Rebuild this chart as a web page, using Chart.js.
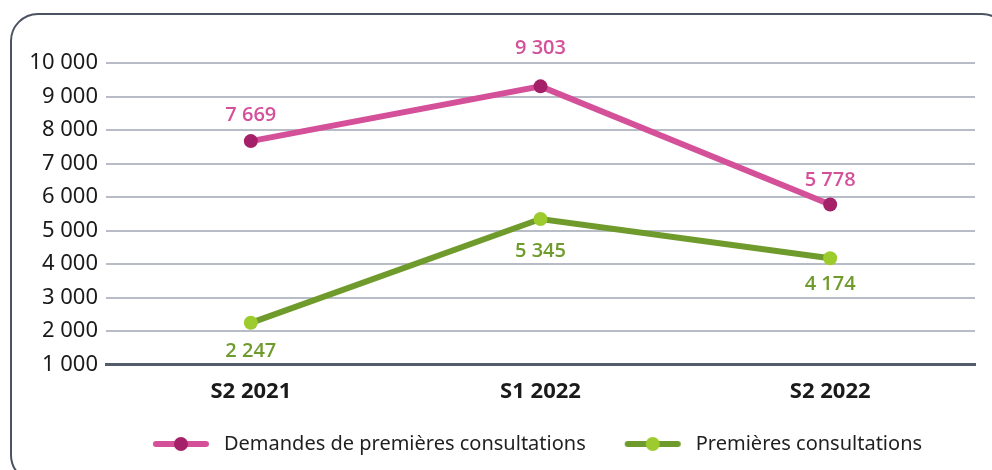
<!DOCTYPE html>
<html>
<head>
<meta charset="utf-8">
<script src="https://cdn.jsdelivr.net/npm/chart.js@4.4.1/dist/chart.umd.min.js"></script>
<style>
  html, body { margin: 0; padding: 0; background: #ffffff; overflow: hidden; }
  body { width: 992px; height: 470px; position: relative; }
  .card {
    position: absolute; left: 10px; top: 13px; width: 1000px; height: 470px;
    border: 2.5px solid #4b5262; border-radius: 28px; box-sizing: border-box;
  }
  #chart { position: absolute; left: 0; top: 0; }
</style>
</head>
<body>
<div class="card"></div>
<canvas id="chart" width="992" height="470"></canvas>
<script>
// ---------- DATA ----------

const periods = ["S2 2021", "S1 2022", "S2 2022"];
const demandes = [7669, 9303, 5778];
const consultations = [2247, 5345, 4174];
const seriesNames = ["Demandes de premières consultations", "Premières consultations"];

// ---------- STYLE ----------

const pink = "#d4519a";
const pinkDot = "#a4216a";
const green = "#6f9b2c";
const greenDot = "#9dcb2e";

function fmt(v) {
  return String(v).replace(/\B(?=(\d{3})+(?!\d))/g, " ");
}

// legend marker: a short thick line with a dot in the middle
// (left margin gives the gap between legend items)
function legendMarker(lineColor, dotColor) {
  const c = document.createElement("canvas");
  c.width = 85;
  c.height = 16;
  const g = c.getContext("2d");
  g.strokeStyle = lineColor;
  g.lineWidth = 6;
  g.lineCap = "round";
  g.beginPath();
  g.moveTo(27, 8);
  g.lineTo(77, 8);
  g.stroke();
  g.fillStyle = dotColor;
  g.beginPath();
  g.arc(52, 8, 7, 0, Math.PI * 2);
  g.fill();
  return c;
}

// value labels above / below each point
const valueLabels = {
  id: "valueLabels",
  afterDatasetsDraw(chart, args, opts) {
    const ctx = chart.ctx;
    ctx.save();
    ctx.font = "600 20px 'Open Sans', 'Noto Sans', sans-serif";
    ctx.textAlign = "center";
    ctx.textBaseline = "middle";
    chart.data.datasets.forEach((ds, di) => {
      const meta = chart.getDatasetMeta(di);
      ctx.fillStyle = opts.colors[di];
      meta.data.forEach((pt, i) => {
        ctx.fillText(fmt(ds.data[i]), pt.x, pt.y + opts.shift[di][i]);
      });
    });
    ctx.restore();
  }
};

new Chart(document.getElementById("chart"), {
  type: "line",
  data: {
    labels: periods,
    datasets: [
      {
        label: seriesNames[0],
        data: demandes,
        borderColor: pink,
        borderWidth: 6,
        pointRadius: 7,
        pointHoverRadius: 7,
        pointBackgroundColor: pinkDot,
        pointBorderWidth: 0,
        tension: 0
      },
      {
        label: seriesNames[1],
        data: consultations,
        borderColor: green,
        borderWidth: 6,
        pointRadius: 7,
        pointHoverRadius: 7,
        pointBackgroundColor: greenDot,
        pointBorderWidth: 0,
        tension: 0
      }
    ]
  },
  options: {
    responsive: false,
    animation: false,
    events: [],
    layout: { padding: { left: 0, right: 17, top: 63, bottom: 6 } },
    plugins: {
      tooltip: { enabled: false },
      legend: {
        position: "bottom",
        fullSize: false,
        labels: {
          usePointStyle: true,
          pointStyleWidth: 85,
          padding: 15,
          color: "#1f1f1f",
          font: { family: "'Noto Sans', sans-serif", size: 20 },
          generateLabels(chart) {
            return chart.data.datasets.map((ds, i) => ({
              // trailing space on the last item balances the marker margin
              text: i === chart.data.datasets.length - 1 ? ds.label + "\u2003\u2002" : ds.label,
              pointStyle: legendMarker(ds.borderColor, ds.pointBackgroundColor),
              fillStyle: "transparent",
              strokeStyle: "transparent",
              lineWidth: 0,
              fontColor: "#1f1f1f",
              datasetIndex: i
            }));
          }
        }
      },
      valueLabels: {
        colors: [pink, green],
        shift: [[-26, -38, -24], [28, 32, 26]]
      }
    },
    scales: {
      x: {
        offset: true,
        grid: { display: false, drawTicks: false },
        border: { display: true, color: "#545b6b", width: 3 },
        ticks: {
          padding: 14,
          color: "#1a1a1a",
          font: { family: "'Noto Sans', sans-serif", size: 22, weight: "bold" }
        }
      },
      y: {
        min: 1000,
        max: 10000,
        afterFit(scale) { scale.width = 106; },
        grid: { color: "#b8bcc7", lineWidth: 2, drawTicks: false },
        border: { display: false },
        ticks: {
          stepSize: 1000,
          padding: 8,
          color: "#1a1a1a",
          font: { family: "'Noto Sans', sans-serif", size: 22 },
          callback: v => fmt(v)
        }
      }
    }
  },
  plugins: [valueLabels]
});
</script>
</body>
</html>
